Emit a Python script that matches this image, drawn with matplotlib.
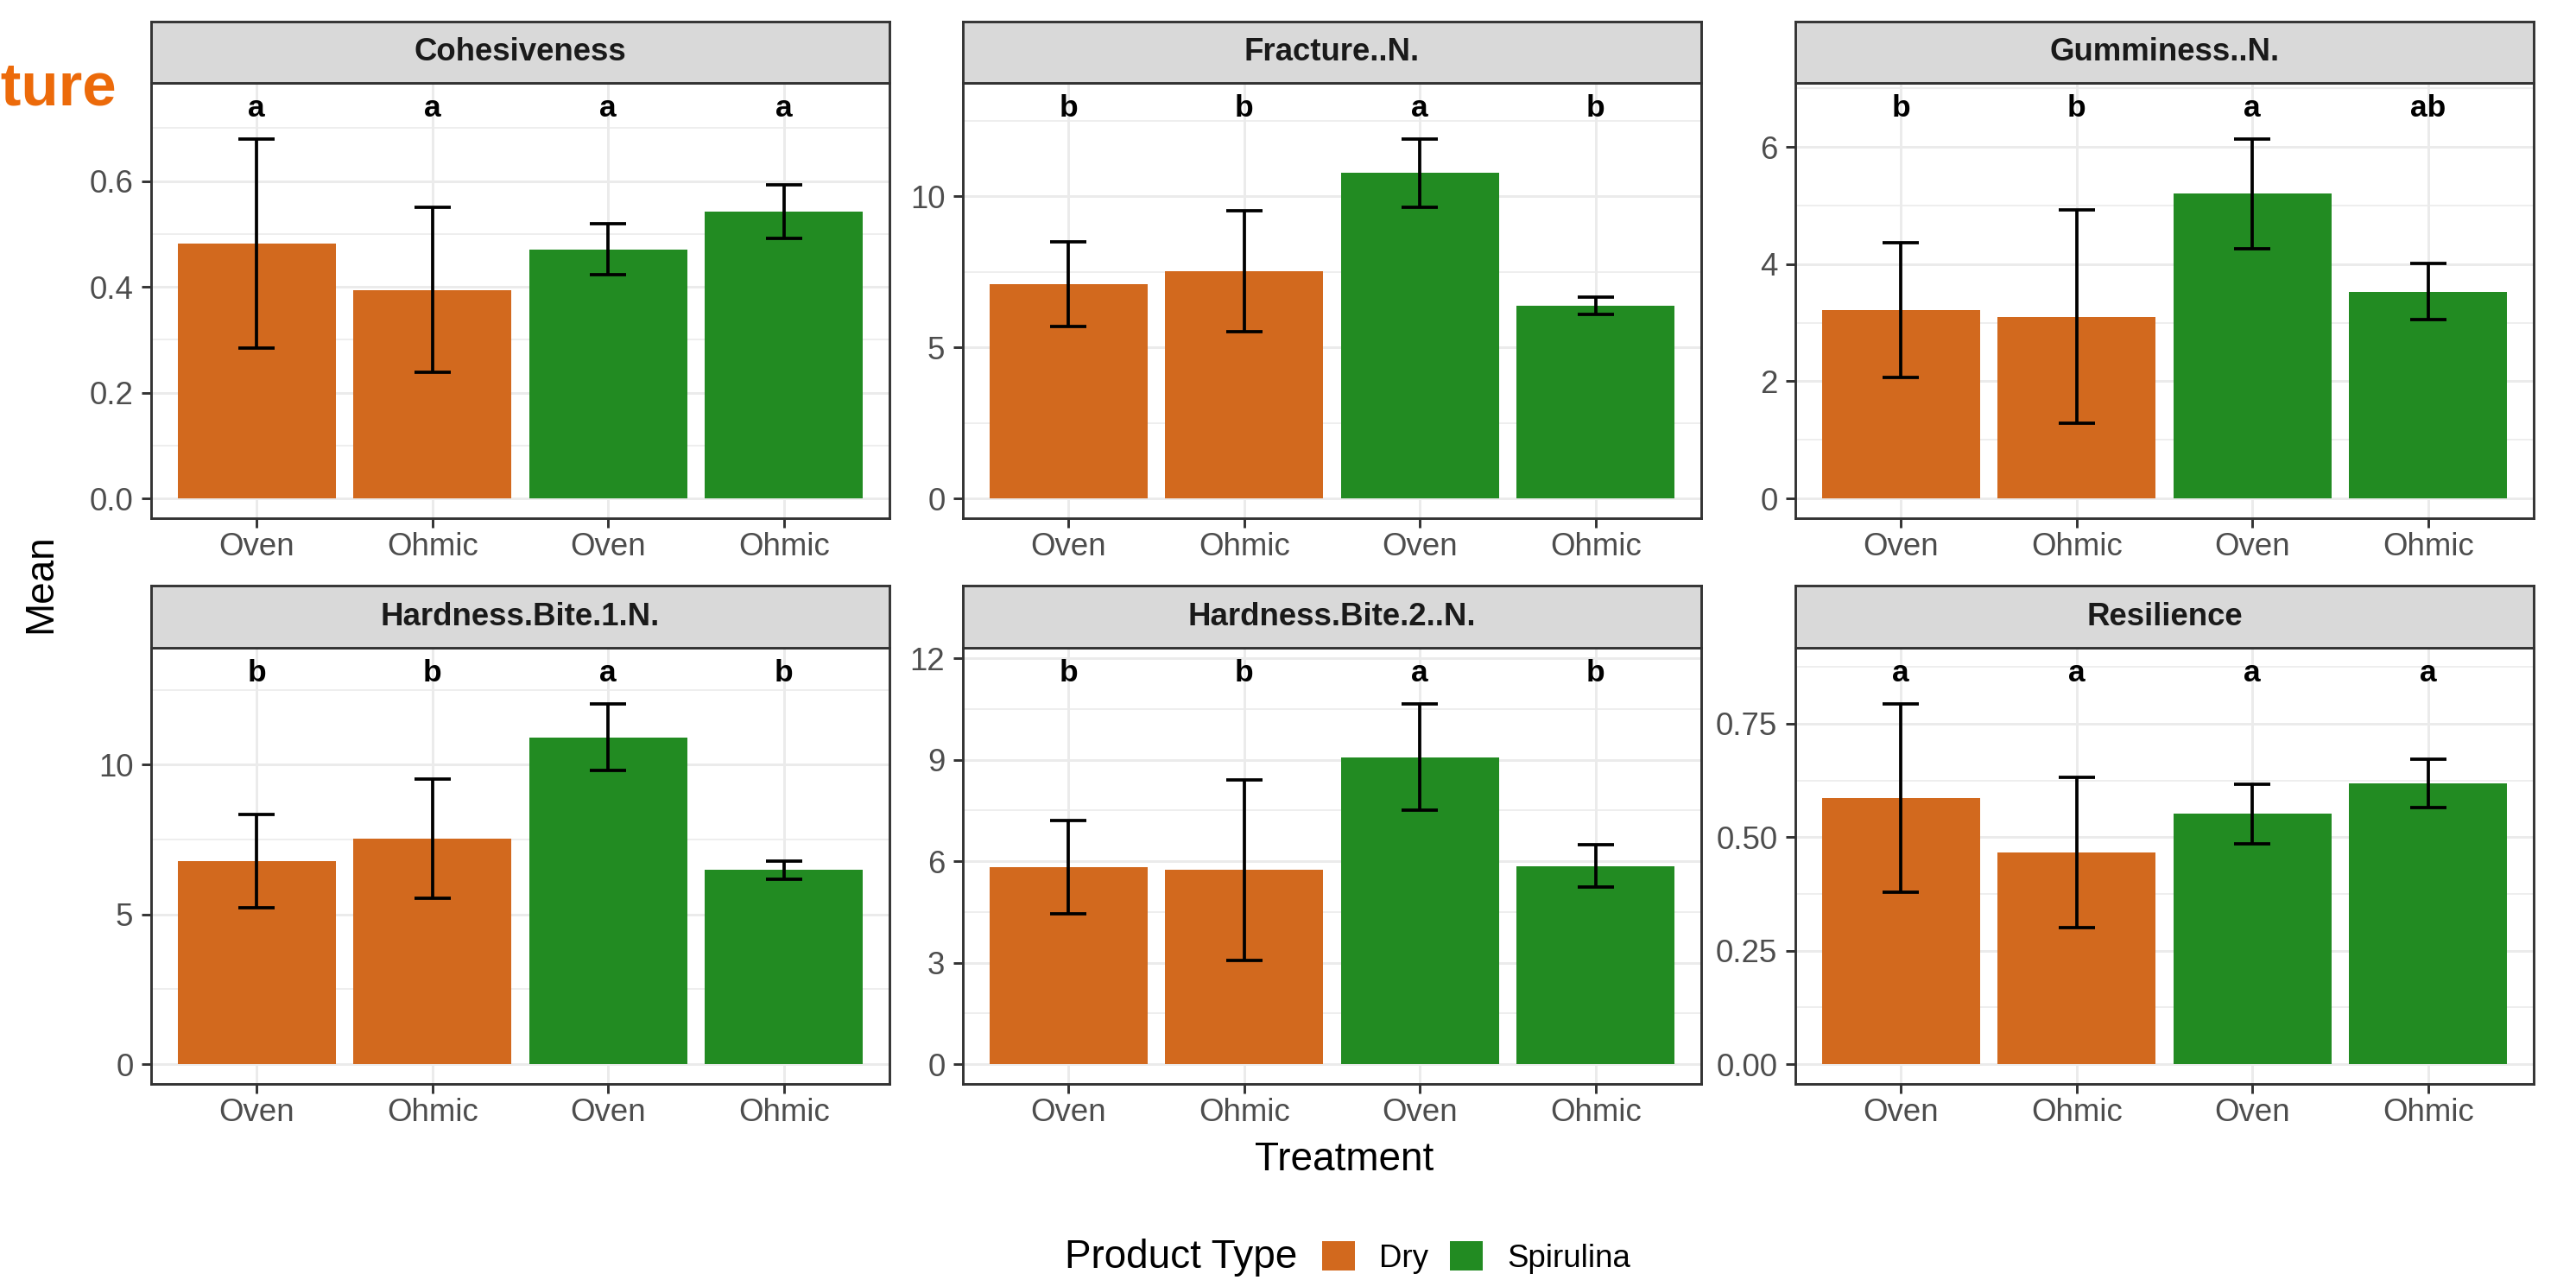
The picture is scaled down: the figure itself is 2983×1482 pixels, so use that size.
import matplotlib.pyplot as plt
from matplotlib.ticker import MultipleLocator, FormatStrFormatter
from matplotlib.patches import Patch
from matplotlib.transforms import offset_copy

plt.rcParams['font.family'] = ['Liberation Sans', 'DejaVu Sans']

# wymiary w pikselach (obraz docelowy)
W, H = 2983, 1482
DPI = 300

# dane
treatment = ['Oven', 'Ohmic', 'Oven', 'Ohmic']
product = ['Dry', 'Dry', 'Spirulina', 'Spirulina']
colors = {'Dry': '#D2691E', 'Spirulina': '#228B22'}

metrics = ['Cohesiveness', 'Fracture..N.', 'Gumminess..N.',
           'Hardness.Bite.1.N.', 'Hardness.Bite.2..N.', 'Resilience']

coh_mean = [0.482, 0.394, 0.471, 0.542]
coh_sd = [0.198, 0.156, 0.048, 0.051]
coh_letters = ['a', 'a', 'a', 'a']

frac_mean = [7.09, 7.52, 10.78, 6.38]
frac_sd = [1.40, 2.00, 1.13, 0.29]
frac_letters = ['b', 'b', 'a', 'b']

gum_mean = [3.21, 3.10, 5.20, 3.53]
gum_sd = [1.15, 1.82, 0.94, 0.48]
gum_letters = ['b', 'b', 'a', 'ab']

hb1_mean = [6.79, 7.53, 10.92, 6.48]
hb1_sd = [1.56, 2.00, 1.12, 0.31]
hb1_letters = ['b', 'b', 'a', 'b']

hb2_mean = [5.82, 5.74, 9.08, 5.86]
hb2_sd = [1.38, 2.67, 1.58, 0.62]
hb2_letters = ['b', 'b', 'a', 'b']

res_mean = [0.586, 0.466, 0.551, 0.618]
res_sd = [0.208, 0.165, 0.066, 0.053]
res_letters = ['a', 'a', 'a', 'a']

means = [coh_mean, frac_mean, gum_mean, hb1_mean, hb2_mean, res_mean]
sds = [coh_sd, frac_sd, gum_sd, hb1_sd, hb2_sd, res_sd]
letters = [coh_letters, frac_letters, gum_letters, hb1_letters, hb2_letters, res_letters]
y_steps = [0.2, 5, 2, 5, 3, 0.25]
y_fmts = ['%.1f', '%d', '%d', '%d', '%d', '%.2f']

# układ paneli (piksele)
col_left = [175, 1115, 2079]
panel_w = 855
rows = [(25, 96, 600), (678, 750, 1255)]


def box(x0, y0, x1, y1):
    return [x0 / W, 1 - y1 / H, (x1 - x0) / W, (y1 - y0) / H]


fig = plt.figure(figsize=(W / DPI, H / DPI), dpi=DPI)
x = [1, 2, 3, 4]
bar_colors = [colors[p] for p in product]

for i, name in enumerate(metrics):
    r, c = divmod(i, 3)
    s_top, s_bot, p_bot = rows[r]
    x0 = col_left[c]
    ax = fig.add_axes(box(x0, s_bot, x0 + panel_w, p_bot))
    m, sd = means[i], sds[i]
    upper = [a + b for a, b in zip(m, sd)]
    lab_y = max(upper) * 1.1

    ax.set_axisbelow(True)
    ax.bar(x, m, width=0.9, color=bar_colors, edgecolor='none')
    ax.errorbar(x, m, yerr=sd, fmt='none', ecolor='black',
                elinewidth=0.9, capsize=4.95, capthick=0.9)
    # litery lekko w dół, jak w ggplot (vjust)
    tr = offset_copy(ax.transData, fig=fig, y=-1.6, units='points')
    for xi, t in zip(x, letters[i]):
        ax.text(xi, lab_y, t, ha='center', va='center', transform=tr,
                fontsize=8.5, fontweight='bold', color='black')

    ax.set_xlim(0.4, 4.6)
    ax.set_ylim(-0.05 * lab_y, 1.05 * lab_y)
    ax.set_xticks(x)
    ax.set_xticklabels(treatment)
    ax.yaxis.set_major_locator(MultipleLocator(y_steps[i]))
    ax.yaxis.set_minor_locator(MultipleLocator(y_steps[i] / 2))
    ax.yaxis.set_major_formatter(FormatStrFormatter(y_fmts[i]))

    ax.grid(which='major', color='#EBEBEB', linewidth=0.7)
    ax.grid(which='minor', axis='y', color='#EBEBEB', linewidth=0.4)
    ax.tick_params(which='major', length=2.75, width=0.7, color='#333333',
                   labelsize=8.8, labelcolor='#4D4D4D')
    ax.tick_params(axis='x', pad=1.1)
    ax.tick_params(axis='y', pad=2.2)
    ax.tick_params(which='minor', length=0)
    for sp in ax.spines.values():
        sp.set_color('#333333')
        sp.set_linewidth(0.7)

    # pasek z nazwą panelu
    st = fig.add_axes(box(x0, s_top, x0 + panel_w, s_bot))
    st.set_facecolor('#D9D9D9')
    st.set_xticks([])
    st.set_yticks([])
    for sp in st.spines.values():
        sp.set_color('#333333')
        sp.set_linewidth(0.7)
    st.text(0.5, 0.5, name, ha='center', va='center', transform=st.transAxes,
            fontsize=8.8, fontweight='bold', color='#1A1A1A')

fig.text(47 / W, 1 - 676 / H, 'Mean', rotation=90, ha='center', va='center', fontsize=11)
fig.text(1557 / W, 1 - 1355 / H, 'Treatment', ha='center', va='baseline', fontsize=11)
fig.text(135 / W, 1 - 121 / H, 'Texture', ha='right', va='baseline',
         fontsize=17, fontweight='bold', color='#EC6A0A')

handles = [Patch(facecolor=colors[k], edgecolor='none', label=k) for k in ['Dry', 'Spirulina']]
fig.text(1233 / W, 1 - 1456 / H, 'Product Type', ha='left', va='center', fontsize=11)
fig.legend(handles=handles, loc='center left', bbox_to_anchor=(1531 / W, 1 - 1456 / H),
           ncol=2, frameon=False, fontsize=8.8, handlelength=1.04, handleheight=1.04,
           handletextpad=0.76, columnspacing=0.68, borderpad=0, borderaxespad=0)

fig.savefig('out.png', dpi=DPI)
